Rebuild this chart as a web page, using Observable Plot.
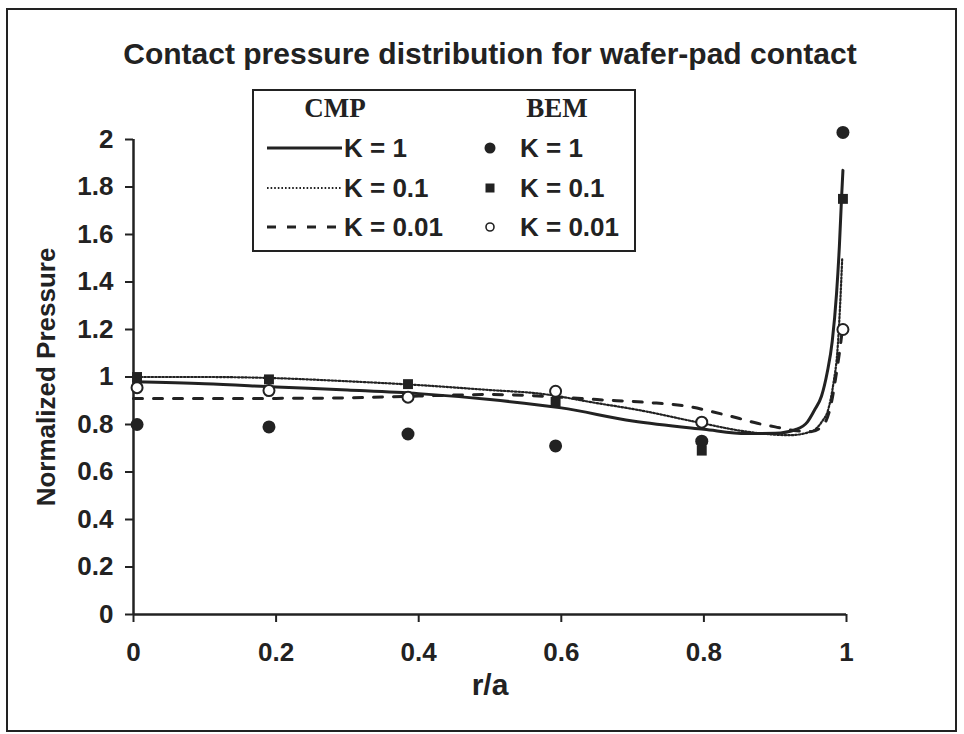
<!DOCTYPE html>
<html>
<head>
<meta charset="utf-8">
<script src="https://cdn.jsdelivr.net/npm/d3@7"></script>
<script src="https://cdn.jsdelivr.net/npm/@observablehq/plot@0.6"></script>
<style>
  html, body { margin: 0; padding: 0; background: #fff; }
  #wrap { position: relative; width: 964px; height: 734px; overflow: hidden; }
  #frame { position: absolute; left: 6px; top: 8px; width: 951px; height: 724px; border: 2px solid #222; box-sizing: border-box; pointer-events: none; }
  #chart { position: absolute; left: 0; top: 0; }
  #title { position: absolute; left: 0; width: 980px; top: 36px; text-align: center;
           font: bold 30px "Liberation Sans", Arial, sans-serif; color: #222; line-height: 36px; }
  #legend { position: absolute; left: 252px; top: 89px; width: 384px; height: 163px;
            border: 2px solid #222; box-sizing: border-box; background: #fff; }
  .lh { position: absolute; font: bold 27px "Liberation Serif", "Times New Roman", serif; color: #222; transform: translate(-50%, -50%); line-height: 1; }
  .ll { position: absolute; font: bold 26px "Liberation Sans", Arial, sans-serif; color: #222; transform: translateY(-50%); white-space: nowrap; line-height: 1; }
  .ls { position: absolute; }
</style>
</head>
<body>
<div id="wrap">
  <div id="chart"></div>
  <div id="title">Contact pressure distribution for wafer-pad contact</div>
  <div id="legend"></div>
  <div id="frame"></div>
</div>
<script>
// ---- Data ----
const xTicks = [0, 0.2, 0.4, 0.6, 0.8, 1];
const yTicks = [0, 0.2, 0.4, 0.6, 0.8, 1, 1.2, 1.4, 1.6, 1.8, 2];

// CMP (analytical curves)
const cmpK1_x = [0, 0.1, 0.2, 0.3, 0.4, 0.5, 0.6, 0.7, 0.8, 0.86, 0.9, 0.93, 0.945, 0.955, 0.965, 0.973, 0.98, 0.986, 0.99, 0.993, 0.995];
const cmpK1_y = [0.98, 0.972, 0.958, 0.945, 0.93, 0.905, 0.87, 0.815, 0.78, 0.762, 0.763, 0.78, 0.81, 0.86, 0.92, 1.02, 1.15, 1.35, 1.55, 1.75, 1.87];

const cmpK01_x = [0, 0.1, 0.2, 0.3, 0.4, 0.5, 0.57, 0.65, 0.71, 0.79, 0.86, 0.92, 0.95, 0.965, 0.975, 0.982, 0.987, 0.991, 0.994];
const cmpK01_y = [1.0, 1.0, 0.995, 0.982, 0.966, 0.945, 0.93, 0.89, 0.86, 0.81, 0.77, 0.755, 0.77, 0.81, 0.87, 0.98, 1.1, 1.3, 1.5];

const cmpK001_x = [0, 0.1, 0.2, 0.3, 0.4, 0.5, 0.6, 0.65, 0.72, 0.78, 0.81, 0.85, 0.875, 0.9, 0.926, 0.95, 0.968, 0.978, 0.985, 0.99, 0.995];
const cmpK001_y = [0.91, 0.91, 0.91, 0.912, 0.92, 0.926, 0.915, 0.905, 0.893, 0.875, 0.855, 0.825, 0.805, 0.79, 0.775, 0.77, 0.80, 0.88, 1.0, 1.1, 1.22];

// BEM (numerical points)
const bem_x = [0.005, 0.19, 0.385, 0.592, 0.797, 0.995];
const bemK1_y = [0.80, 0.79, 0.76, 0.71, 0.73, 2.03];
const bemK01_y = [1.0, 0.99, 0.97, 0.895, 0.69, 1.75];
const bemK001_y = [0.955, 0.943, 0.915, 0.94, 0.81, 1.20];

// ---- Build tables ----
const toRows = (xs, ys) => xs.map((x, i) => ({x, y: ys[i]}));
const ink = "#222";
const lineStyles = [
  {label: "K = 1", x: cmpK1_x, y: cmpK1_y, strokeWidth: 3, dash: null},
  {label: "K = 0.1", x: cmpK01_x, y: cmpK01_y, strokeWidth: 2.2, dash: "1.6,2"},
  {label: "K = 0.01", x: cmpK001_x, y: cmpK001_y, strokeWidth: 3, dash: "9,11"}
];
const dotStyles = [
  {label: "K = 1", y: bemK1_y, symbol: "circle", r: 6.5, fill: ink, stroke: "none"},
  {label: "K = 0.1", y: bemK01_y, symbol: "square", r: 5.6, fill: ink, stroke: "none"},
  {label: "K = 0.01", y: bemK001_y, symbol: "circle", r: 5.5, fill: "#fff", stroke: ink}
];

const chart = Plot.plot({
  width: 964,
  height: 734,
  marginLeft: 133,
  marginRight: 118,
  marginTop: 139,
  marginBottom: 120,
  style: {fontFamily: "'Liberation Sans', Arial, sans-serif", fontWeight: "bold", color: ink, background: "transparent"},
  x: {domain: [0, 1]},
  y: {domain: [0, 2]},
  marks: [
    Plot.axisY(yTicks, {tickSize: 8, tickPadding: 12, fontSize: 26, strokeWidth: 2, tickFormat: d => String(d), label: null}),
    Plot.axisX(xTicks, {tickSize: 8, tickPadding: 20, fontSize: 26, strokeWidth: 2, tickFormat: d => String(d), label: null}),
    Plot.ruleX([0], {stroke: ink, strokeWidth: 2.5}),
    Plot.ruleY([0], {stroke: ink, strokeWidth: 2.5}),
    ...lineStyles.map(s => Plot.line(toRows(s.x, s.y), {
      x: "x", y: "y", stroke: ink, strokeWidth: s.strokeWidth,
      strokeDasharray: s.dash || undefined, curve: "monotone-x"
    })),
    ...dotStyles.map(s => Plot.dot(toRows(bem_x, s.y), {
      x: "x", y: "y", symbol: s.symbol, r: s.r, fill: s.fill,
      stroke: s.stroke === "none" ? undefined : s.stroke, strokeWidth: 2
    })),
    Plot.text(["Normalized Pressure"], {frameAnchor: "left", dx: -87, rotate: -90, textAnchor: "middle", lineAnchor: "middle", fontSize: 26, fontWeight: "bold", fill: ink}),
    Plot.text(["r/a"], {frameAnchor: "bottom", dy: 71, lineAnchor: "middle", fontSize: 30, fontWeight: "bold", fill: ink})
  ]
});
document.getElementById("chart").appendChild(chart);

// ---- Legend ----
const legend = document.getElementById("legend");
const add = (html) => { legend.insertAdjacentHTML("beforeend", html); };
add(`<div class="lh" style="left:81px; top:17px;">CMP</div>`);
add(`<div class="lh" style="left:303px; top:17px;">BEM</div>`);
const rowTops = [57, 97, 136];
lineStyles.forEach((s, i) => {
  const t = rowTops[i];
  add(`<svg class="ls" style="left:12px; top:${t - 6}px;" width="78" height="12"><line x1="1" y1="6" x2="76" y2="6" stroke="${ink}" stroke-width="${s.strokeWidth}" ${s.dash ? `stroke-dasharray="${s.dash}"` : ""}/></svg>`);
  add(`<div class="ll" style="left:90px; top:${t}px;">${s.label}</div>`);
});
dotStyles.forEach((s, i) => {
  const t = rowTops[i];
  let shape;
  if (s.symbol === "square") shape = `<rect x="3.5" y="3.5" width="9" height="9" fill="${s.fill}"/>`;
  else if (s.fill === "#fff") shape = `<circle cx="8" cy="8" r="4" fill="#fff" stroke="${ink}" stroke-width="1.6"/>`;
  else shape = `<circle cx="8" cy="8" r="5.5" fill="${s.fill}"/>`;
  add(`<svg class="ls" style="left:228px; top:${t - 8}px;" width="16" height="16">${shape}</svg>`);
  add(`<div class="ll" style="left:266px; top:${t}px;">${s.label}</div>`);
});
</script>
</body>
</html>
